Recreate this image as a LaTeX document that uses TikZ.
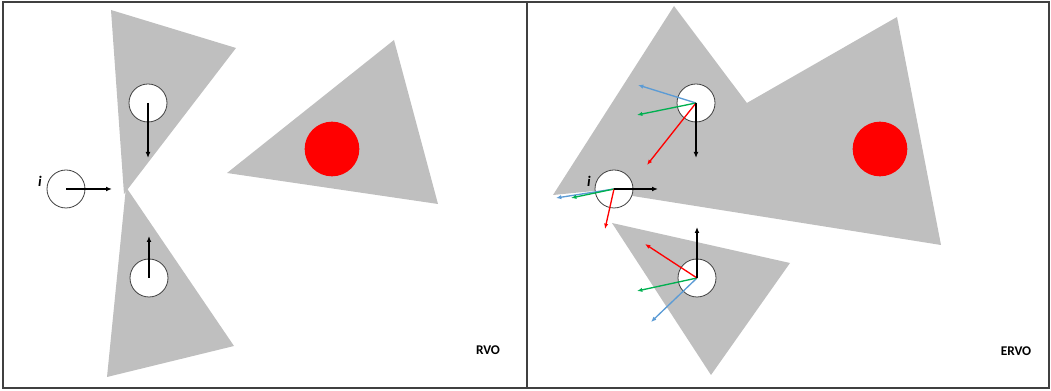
\documentclass[tikz,border=0pt]{standalone}
\usepackage{fontspec}
\setmainfont{Carlito}
\usetikzlibrary{arrows.meta}
\definecolor{cone}{RGB}{191,191,191}
\definecolor{frame}{RGB}{64,64,64}
\definecolor{vblue}{RGB}{91,155,213}
\definecolor{vgreen}{RGB}{0,176,80}
\definecolor{vred}{RGB}{255,0,0}
\tikzset{
  conefill/.style={fill=cone, draw=none},
  obstacle/.style={circle, fill=vred, draw=none, minimum size=41pt, inner sep=0pt},
  agent/.style={circle, fill=white, draw=frame, line width=0.6pt, minimum size=28.5pt, inner sep=0pt},
  vel/.style={line width=1.1pt, -{Latex[length=4.5pt,width=3.6pt]}},
  cvel/.style={line width=1pt, -{Latex[length=4pt,width=3.2pt]}},
  lbl/.style={font=\bfseries\fontsize{10pt}{12pt}\selectfont, inner sep=0pt},
  ilbl/.style={font=\bfseries\itshape\fontsize{11pt}{13pt}\selectfont, inner sep=0pt}
}
\begin{document}
\begin{tikzpicture}[x=0.75pt,y=-0.75pt]
\useasboundingbox (0,0) rectangle (1051,391);
% frame
\draw[frame, line width=1.1pt] (3,2) rectangle (1049,388);
\draw[frame, line width=1.1pt] (527,2) -- (527,388);

% ---------------- left panel: RVO ----------------
\fill[conefill] (111,10) -- (236,48) -- (124,194) -- cycle;
\fill[conefill] (126,187) -- (234,346) -- (107,377) -- cycle;
\fill[conefill] (227,173) -- (394,40) -- (438,204) -- cycle;
\node[obstacle] (ob1) at (332,149) {};

\node[agent] (la) at (148,103) {};
\node[agent] (li) at (66,189) {};
\node[agent] (lb) at (149,278) {};
\coordinate (la-v) at (148,158);
\coordinate (li-v) at (112,189);
\coordinate (lb-v) at (149,236);
\draw[vel] (la.center) -- (la-v);
\draw[vel] (li.center) -- (li-v);
\draw[vel] (lb.center) -- (lb-v);
\node[ilbl] (li-lbl) at (40,181) {i};
\node[lbl] (rvo) at (488,350) {RVO};

% ---------------- right panel: ERVO ----------------
\fill[conefill] (674,6) -- (798,171) -- (553,195) -- cycle;
\fill[conefill] (897,17) -- (941,245) -- (595,190) -- cycle;
\fill[conefill] (612,223) -- (790,263) -- (711,375) -- cycle;
\node[obstacle] (ob2) at (880,149) {};

\node[agent] (ra) at (696,103) {};
\node[agent] (ri) at (614,189) {};
\node[agent] (rb) at (697,278) {};

\coordinate (ra-k) at (696,158);
\coordinate (ra-r) at (647,165);
\coordinate (ra-g) at (637,115);
\coordinate (ra-b) at (638,85);
\draw[cvel, vblue] (ra.center) -- (ra-b);
\draw[cvel, vgreen] (ra.center) -- (ra-g);
\draw[cvel, vred] (ra.center) -- (ra-r);
\draw[vel] (ra.center) -- (ra-k);

\coordinate (ri-k) at (658,189);
\coordinate (ri-b) at (556,198);
\coordinate (ri-g) at (571,198);
\coordinate (ri-r) at (605,229);
\draw[cvel, vblue] (ri.center) -- (ri-b);
\draw[cvel, vgreen] (ri.center) -- (ri-g);
\draw[cvel, vred] (ri.center) -- (ri-r);
\draw[vel] (ri.center) -- (ri-k);
\node[ilbl] (ri-lbl) at (589,181) {i};

\coordinate (rb-k) at (697,227);
\coordinate (rb-r) at (645,244);
\coordinate (rb-g) at (637,291);
\coordinate (rb-b) at (651,322);
\draw[cvel, vblue] (rb.center) -- (rb-b);
\draw[cvel, vgreen] (rb.center) -- (rb-g);
\draw[cvel, vred] (rb.center) -- (rb-r);
\draw[vel] (rb.center) -- (rb-k);

\node[lbl] (ervo) at (1016,351) {ERVO};
\end{tikzpicture}
\end{document}
